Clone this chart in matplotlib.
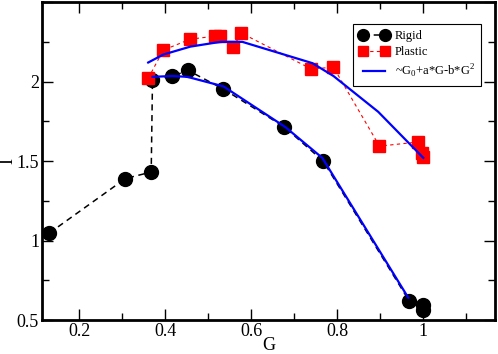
import numpy as np
import matplotlib.pyplot as plt
from matplotlib.ticker import MultipleLocator, FuncFormatter

plt.rcParams['font.family'] = ['Liberation Serif', 'DejaVu Serif']
plt.rcParams['mathtext.fontset'] = 'custom'
plt.rcParams['mathtext.rm'] = 'Liberation Serif'

# rigid data
g_rigid = [0.130, 0.307, 0.367, 0.370, 0.416, 0.453, 0.535, 0.677, 0.767, 0.967, 1.000, 1.000]
i_rigid = [1.047, 1.390, 1.431, 2.010, 2.035, 2.070, 1.953, 1.714, 1.500, 0.620, 0.594, 0.563]

# plastic data
g_plastic = [0.360, 0.395, 0.458, 0.516, 0.528, 0.558, 0.577, 0.739, 0.791, 0.898, 0.988, 0.998, 1.000]
i_plastic = [2.020, 2.198, 2.267, 2.286, 2.286, 2.220, 2.305, 2.080, 2.090, 1.594, 1.620, 1.550, 1.525]

# fits
g_fit_p = [0.360, 0.395, 0.458, 0.528, 0.579, 0.742, 0.791, 0.895, 1.000]
i_fit_p = [2.120, 2.170, 2.220, 2.250, 2.250, 2.116, 2.035, 1.810, 1.520]
g_fit_r = [0.370, 0.416, 0.451, 0.535, 0.679, 0.765, 0.965]
i_fit_r = [2.030, 2.035, 2.030, 1.970, 1.714, 1.520, 0.640]

fig = plt.figure(figsize=(4.98, 3.54), dpi=100)
ax = fig.add_axes([0.084, 0.096, 0.91, 0.898])

ax.plot(g_rigid, i_rigid, 'k--', marker='o', ms=10, lw=1.1, dashes=(4, 3), label='Rigid')
ax.plot(g_plastic, i_plastic, color='red', ls='--', lw=0.8, dashes=(3, 3),
        marker='s', ms=8.5, mfc='red', mec='red', label='Plastic')
ax.plot(g_fit_p, i_fit_p, color='#0000ff', lw=1.6, label=r'~G$_0$+a*G-b*G$^2$')
ax.plot(g_fit_r, i_fit_r, color='#0000ff', lw=1.6)

ax.set_xlim(0.1126, 1.1667)
ax.set_ylim(0.5, 2.5)
ax.xaxis.set_major_locator(MultipleLocator(0.2))
ax.xaxis.set_minor_locator(MultipleLocator(0.1))
ax.yaxis.set_major_locator(MultipleLocator(0.5))
ax.yaxis.set_minor_locator(MultipleLocator(0.25))
ax.xaxis.set_major_formatter(FuncFormatter(lambda v, p: '' if v > 1.1 else '%g' % round(v, 3)))
ax.yaxis.set_major_formatter(FuncFormatter(lambda v, p: '' if v > 2.4 else '%g' % round(v, 3)))
ax.tick_params(which='both', direction='in', top=True, right=True, width=1, labelsize=13, pad=2)
ax.tick_params(which='major', length=8)
ax.tick_params(which='minor', length=5)
for s in ax.spines.values():
    s.set_linewidth(2)

ax.set_xlabel('G', fontsize=13, labelpad=-2)
ax.set_ylabel('I', fontsize=13, labelpad=0)

leg = ax.legend(loc='upper right', bbox_to_anchor=(0.969, 0.93), borderaxespad=0,
                fontsize=9, fancybox=False, edgecolor='black', framealpha=1,
                handlelength=2.4, numpoints=2, borderpad=0.45, labelspacing=0.35,
                handletextpad=0.5, markerscale=0.85)
leg.get_frame().set_linewidth(0.8)

fig.savefig('out.png', dpi=100)
